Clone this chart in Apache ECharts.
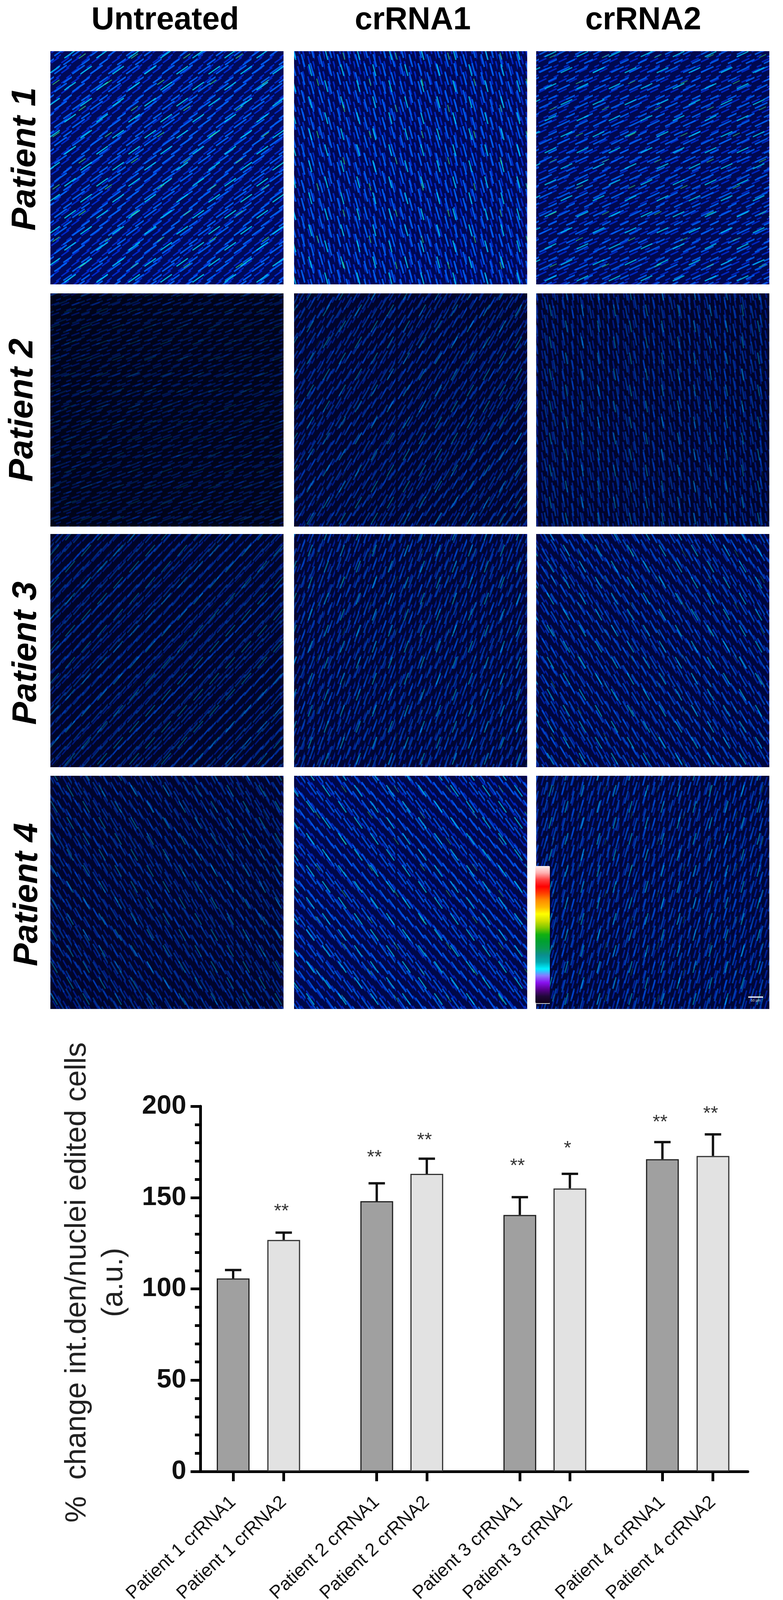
<!DOCTYPE html>
<html>
<head>
<meta charset="utf-8">
<style>
    html, body {margin: 0; padding: 0; background: #fff;}
    #main {width: 2005px; height: 4147px;}
</style>
<script src="https://cdn.jsdelivr.net/npm/echarts@6/dist/echarts.min.js"></script>
</head>
<body>
<div id="main"></div>
<script>
// bar chart values
let barLabels = ['Patient 1 crRNA1', 'Patient 1 crRNA2', 'Patient 2 crRNA1', 'Patient 2 crRNA2',
    'Patient 3 crRNA1', 'Patient 3 crRNA2', 'Patient 4 crRNA1', 'Patient 4 crRNA2'];
let barSlots = [1, 2, 3.84, 4.83, 6.67, 7.66, 9.49, 10.49];
let barMeans = [105.7, 126.8, 148, 163, 140.5, 155, 171, 172.8];
let barErrorTops = [110.3, 130.8, 157.8, 171.3, 150.2, 163, 180.4, 184.6];
let starMarks = ['', '**', '**', '**', '**', '*', '**', '**'];
let starHeights = [0, 144, 173.6, 183, 168.8, 178.5, 192.8, 197.5];
let yTicks = {min: 0, max: 200, interval: 50};

// micrograph panels, row by row: how bright and which way the fibres run (degrees)
let columnTitles = ['Untreated', 'crRNA1', 'crRNA2'];
let rowTitles = ['Patient 1', 'Patient 2', 'Patient 3', 'Patient 4'];
let panelBrightness = [
    0.85, 0.8, 0.75,
    0.08, 0.3, 0.3,
    0.25, 0.4, 0.5,
    0.3, 0.65, 0.45
];
let panelFibreAngle = [
    35, 105, 25,
    20, 60, 100,
    50, 70, 120,
    120, 125, 75
];

// rainbow lookup table, bottom to top
let lutColors = ['#100018', '#200838', '#5a0090', '#8a10f0', '#8878ff', '#00f0ff', '#00a8b0', '#0a8f8f',
    '#089a50', '#00a030', '#10b010', '#80c800', '#d0e000', '#ffff00', '#ffb800', '#ff8c00',
    '#ff4000', '#ff0000', '#ff4040', '#ffb0b0', '#fff0f0'];

let panelLefts = [129, 753, 1373];
let panelTops = [131, 751, 1367, 1986];
let panelSize = 597;
let font = '"Liberation Sans"';

// one slanted dash in a 100x100 box, the two empty moves keep the box square
function fibreSymbol(angle, thick) {
    let rad = angle * Math.PI / 180;
    let c = Math.cos(rad), s = Math.sin(rad);
    let k = 48 / Math.max(Math.abs(c), Math.abs(s));
    let nx = -s * thick / 2, ny = -c * thick / 2;
    let x1 = 50 - k * c, y1 = 50 + k * s, x2 = 50 + k * c, y2 = 50 - k * s;
    return 'path://M0 0L0 0M100 100L100 100M' + (x1 + nx) + ' ' + (y1 + ny) + 'L' + (x2 + nx) + ' ' + (y2 + ny)
        + 'L' + (x2 - nx) + ' ' + (y2 - ny) + 'L' + (x1 - nx) + ' ' + (y1 - ny) + 'Z';
}

// checkerboard of dashes with pitch p, the tile repeats without seams
function panelLayer(g, fill, symbol, color, cell, p) {
    return {
        type: 'bar', xAxisIndex: g, yAxisIndex: g, barWidth: '100%', barGap: '-100%', silent: true,
        data: [1],
        itemStyle: {
            color: fill,
            decal: {
                symbol, symbolSize: 1, color,
                dashArrayX: [[cell, 2 * p - cell], [0, p, cell, p - cell]],
                dashArrayY: [cell, p - cell]
            }
        }
    };
}

let grids = [{left: 513, right: 90, top: 2832, bottom: 380}];
let xAxes = [{
    type: 'value', min: 0.351, max: 11.18, splitLine: {show: false},
    axisLine: {lineStyle: {color: '#000', width: 7}},
    axisTick: {customValues: barSlots, length: 25, lineStyle: {color: '#000', width: 7}},
    axisLabel: {
        customValues: barSlots, rotate: 43, margin: 72, color: '#111',
        fontFamily: font, fontSize: 47,
        formatter: v => barLabels[barSlots.indexOf(v)]
    }
}];
let yAxes = [{
    type: 'value', min: yTicks.min, max: yTicks.max, interval: yTicks.interval, splitLine: {show: false},
    axisLine: {show: true, lineStyle: {color: '#000', width: 7}},
    axisTick: {show: true, length: 25, lineStyle: {color: '#000', width: 7}},
    minorTick: {show: true, splitNumber: 5, length: 14, lineStyle: {color: '#000', width: 7}},
    axisLabel: {margin: 36, color: '#111', fontFamily: font, fontSize: 68, fontWeight: 'bold'}
}];

let series = [
    {
        name: 'crRNA1', type: 'bar', xAxisIndex: 0, yAxisIndex: 0, barWidth: 84, barGap: '-100%',
        itemStyle: {color: '#a0a0a0', borderColor: '#222', borderWidth: 3},
        data: barMeans.map((v, i) => [barSlots[i], v]).filter((d, i) => i % 2 === 0)
    },
    {
        name: 'crRNA2', type: 'bar', xAxisIndex: 0, yAxisIndex: 0, barWidth: 84, barGap: '-100%',
        itemStyle: {color: '#e2e2e2', borderColor: '#333', borderWidth: 3},
        data: barMeans.map((v, i) => [barSlots[i], v]).filter((d, i) => i % 2 === 1)
    },
    {
        type: 'custom', xAxisIndex: 0, yAxisIndex: 0, z: 1,
        data: barMeans.map((v, i) => [barSlots[i], v, barErrorTops[i]]),
        renderItem(params, api) {
            let low = api.coord([api.value(0), api.value(1)]);
            let high = api.coord([api.value(0), api.value(2)]);
            let style = {stroke: '#111', lineWidth: 6};
            return {
                type: 'group',
                children: [
                    {type: 'line', shape: {x1: low[0], y1: low[1], x2: high[0], y2: high[1]}, style},
                    {type: 'line', shape: {x1: high[0] - 21, y1: high[1], x2: high[0] + 21, y2: high[1]}, style}
                ]
            };
        }
    },
    {
        type: 'scatter', xAxisIndex: 0, yAxisIndex: 0, symbolSize: 0,
        data: starMarks.map((s, i) => ({value: [barSlots[i], starHeights[i]], mark: s})).filter(d => d.mark),
        label: {
            show: true, position: 'inside', offset: [-6, 8], color: '#000',
            fontFamily: font, fontSize: 49,
            formatter: p => p.data.mark
        }
    }
];

// the micrographs themselves can't be read as data, so each panel is one cell
// with its mean brightness and a dash pattern running along the fibres
panelBrightness.forEach((b, i) => {
    let g = i + 1;
    let row = Math.floor(i / 3), col = i % 3;
    grids.push({left: panelLefts[col], top: panelTops[row], width: panelSize, height: panelSize});
    xAxes.push({gridIndex: g, type: 'category', data: [''], show: false});
    yAxes.push({gridIndex: g, type: 'value', min: 0, max: 1, show: false});
    let angle = panelFibreAngle[i];
    let fill = 'rgb(0,' + Math.round(3 + 8 * b) + ',' + Math.round(20 + 80 * b) + ')';
    series.push(
        panelLayer(g, fill, fibreSymbol(angle, 18), 'rgba(0,45,215,' + (0.3 + 0.7 * b) + ')', 22, 13),
        panelLayer(g, 'rgba(0,0,0,0)', fibreSymbol(angle, 12), 'rgba(0,105,255,' + (0.12 + 0.88 * b) + ')', 34, 23),
        panelLayer(g, 'rgba(0,0,0,0)', fibreSymbol(angle, 10), 'rgba(0,205,240,' + (0.08 + 0.92 * b) + ')', 31, 41),
        panelLayer(g, 'rgba(0,0,0,0)', fibreSymbol(angle, 12), 'rgba(60,235,120,' + (b * b) + ')', 19, 67)
    );
});

let chartTexts = [];
columnTitles.forEach((t, i) => {
    chartTexts.push({
        type: 'text', x: [423, 1057, 1647][i], y: 53, z: 100,
        style: {text: t, fill: '#000', font: 'bold 81px ' + font, textAlign: 'center', textVerticalAlign: 'middle'}
    });
});
rowTitles.forEach((t, i) => {
    chartTexts.push({
        type: 'text', x: [66, 59, 68, 71][i], y: [407, 1050, 1672, 2290][i], rotation: Math.PI / 2, z: 100,
        style: {text: t, fill: '#000', font: 'italic bold 88px ' + font, textAlign: 'center', textVerticalAlign: 'middle'}
    });
});
chartTexts.push({
    type: 'text', x: 198, y: 3283, rotation: Math.PI / 2, z: 100,
    style: {text: '%  change int.den/nuclei edited cells', fill: '#222', font: '76px ' + font, textAlign: 'center', textVerticalAlign: 'middle'}
}, {
    type: 'text', x: 292, y: 3283, rotation: Math.PI / 2, z: 100,
    style: {text: '(a.u.)', fill: '#222', font: '76px ' + font, textAlign: 'center', textVerticalAlign: 'middle'}
}, {
    type: 'rect', shape: {x: 1916, y: 2551, width: 38, height: 3}, z: 100, style: {fill: '#fff'}
}, {
    type: 'text', x: 1935, y: 2562, z: 100,
    style: {text: '50 µm', fill: '#ddd', font: '9px ' + font, textAlign: 'center', textVerticalAlign: 'middle'}
}, {
    type: 'rect', shape: {x: 1371, y: 2568, width: 37, height: 2}, z: 100, style: {fill: '#ccc'}
});

let chart = echarts.init(document.getElementById('main'), null, {renderer: 'canvas'});
chart.setOption({
    animation: false,
    backgroundColor: '#fff',
    grid: grids,
    xAxis: xAxes,
    yAxis: yAxes,
    series: series,
    visualMap: {
        type: 'continuous', seriesIndex: [], min: 0, max: 255, show: true, calculable: false,
        left: 1371, top: 2217, itemWidth: 37, itemHeight: 351, padding: 0, text: ['', ''],
        inRange: {color: lutColors}, z: 50
    },
    graphic: {elements: chartTexts}
});
</script>
</body>
</html>
